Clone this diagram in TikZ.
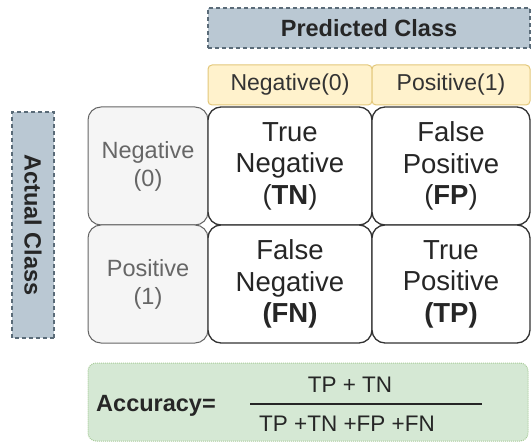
\documentclass[tikz,border=0pt]{standalone}
\usepackage{fontspec}
\setmainfont{Liberation Sans}
\definecolor{predfill}{HTML}{BAC8D3}
\definecolor{preddraw}{HTML}{5A6B78}
\definecolor{headfill}{HTML}{FFF2CC}
\definecolor{headdraw}{HTML}{E3C77A}
\definecolor{rowfill}{HTML}{F5F5F5}
\definecolor{rowdraw}{HTML}{666666}
\definecolor{accfill}{HTML}{D5E8D4}
\definecolor{accdraw}{HTML}{A9CC9A}

\begin{document}
\begin{tikzpicture}[x=1pt,y=-1pt,
  classbox/.style={draw=preddraw,fill=predfill,line width=1.8pt,dash pattern=on 4pt off 3pt,inner sep=0pt,font=\fontsize{23.5}{28}\selectfont\bfseries,text=black!85},
  headbox/.style={draw=headdraw,fill=headfill,rounded corners=4pt,line width=1pt,minimum height=40pt,inner sep=0pt,font=\fontsize{23}{26}\selectfont,text=black!80},
  rowbox/.style={draw=rowdraw,fill=rowfill,rounded corners=13pt,line width=1pt,minimum width=120pt,minimum height=118pt,inner sep=0pt,align=center,font=\fontsize{23.5}{28}\selectfont,text=black!60},
  cellbox/.style={draw=black!80,fill=white,rounded corners=13pt,line width=1.3pt,minimum height=118pt,inner sep=0pt,align=center,font=\fontsize{27.5}{31.5}\selectfont,text=black!85},
  ]
        \useasboundingbox (0,0) rectangle (532,443);
        % class titles
        \draw (369,28) node[classbox,minimum width=322pt,minimum height=40pt] (pred) {Predicted Class};
        \draw (33,225) node[classbox,minimum width=226pt,minimum height=42pt,rotate=-90] (act) {Actual Class};

        % column heads
        \draw (290,85) node[headbox,minimum width=164pt] (hneg) {Negative(0)};
        \draw (451,85) node[headbox,minimum width=158pt] (hpos) {Positive(1)};

        % row heads
        \draw (148,166) node[rowbox] (rneg) {Negative\\(0)};
        \draw (148,284) node[rowbox] (rpos) {Positive\\(1)};

        % the four cells
        \draw (290,166) node[cellbox,minimum width=164pt] (tn) {True\\Negative\\(\textbf{TN})};
        \draw (451,166) node[cellbox,minimum width=158pt] (fp) {False\\Positive\\(\textbf{FP})};
        \draw (290,284) node[cellbox,minimum width=164pt] (fn) {False\\Negative\\\textbf{(FN)}};
        \draw (451,284) node[cellbox,minimum width=158pt] (tp) {True\\Positive\\\textbf{(TP)}};

        % accuracy
        \draw (308,402) node[draw=accdraw,fill=accfill,densely dotted,line width=1pt,rounded corners=8pt,
          minimum width=440pt,minimum height=78pt] (acc) {};
        \draw (156,406) node[font=\fontsize{23.5}{28}\selectfont\bfseries,text=black!85] (lbl) {Accuracy=};
        \draw (350,385) node[font=\fontsize{22.5}{26}\selectfont,text=black!85] (num) {TP + TN};
        \draw (347,424) node[font=\fontsize{22.5}{26}\selectfont,text=black!85] (den) {TP +TN +FP +FN};
        \coordinate (fl) at (250,404);
        \coordinate (fr) at (482,404);
        \draw[line width=1.5pt,black!85] (fl) -- (fr);
\end{tikzpicture}
\end{document}
